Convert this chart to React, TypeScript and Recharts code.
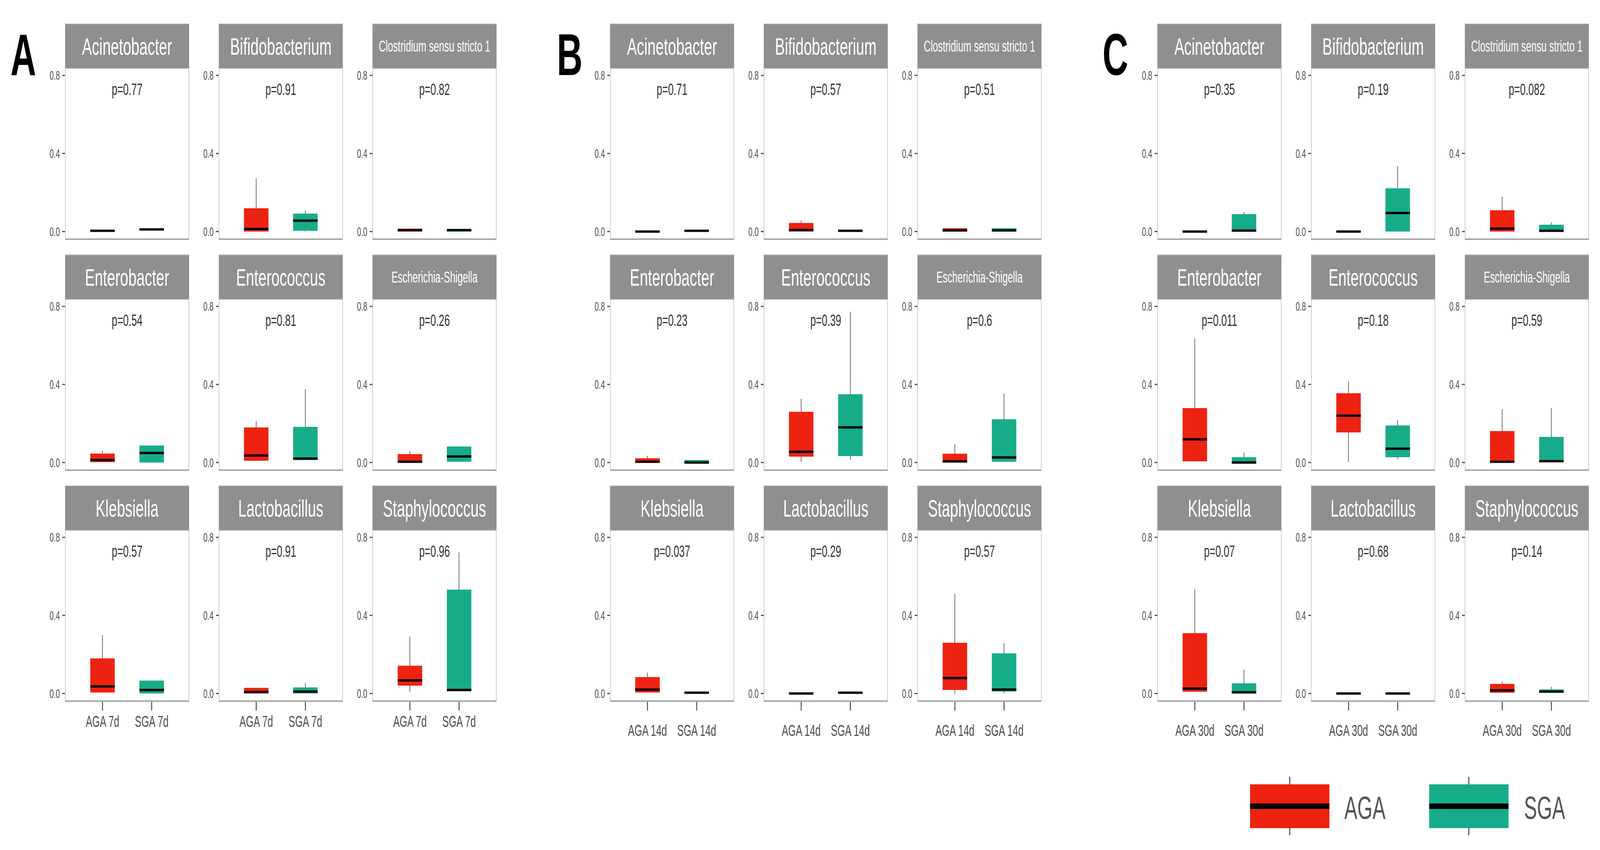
import React from 'react';
import { ComposedChart, Bar, Scatter, XAxis, YAxis, ReferenceLine, Cell } from 'recharts';

// ---------- data ----------
const TAXA = [
  'Acinetobacter',
  'Bifidobacterium',
  'Clostridium sensu stricto 1',
  'Enterobacter',
  'Enterococcus',
  'Escherichia-Shigella',
  'Klebsiella',
  'Lactobacillus',
  'Staphylococcus',
];
const GROUPS = ['AGA', 'SGA'];
const PANEL_LETTERS = ['A', 'B', 'C'];
const CATS_A = ['AGA 7d', 'SGA 7d'];
const CATS_B = ['AGA 14d', 'SGA 14d'];
const CATS_C = ['AGA 30d', 'SGA 30d'];
const Y_TICKS = [0, 0.4, 0.8];

const P_A = ['0.77', '0.91', '0.82', '0.54', '0.81', '0.26', '0.57', '0.91', '0.96'];
const P_B = ['0.71', '0.57', '0.51', '0.23', '0.39', '0.6', '0.037', '0.29', '0.57'];
const P_C = ['0.35', '0.19', '0.082', '0.011', '0.18', '0.59', '0.07', '0.68', '0.14'];

// [taxon][group] -> [whisker low, q1, median, q3, whisker high]
const STATS_A = [
  [[0, 0.001, 0.004, 0.006, 0.006], [0.008, 0.009, 0.011, 0.013, 0.013]],
  [[0, 0, 0.013, 0.119, 0.274], [0, 0.004, 0.056, 0.092, 0.109]],
  [[0, 0, 0.007, 0.015, 0.015], [0, 0, 0.007, 0.014, 0.014]],
  [[0.002, 0.002, 0.013, 0.046, 0.06], [0, 0, 0.049, 0.087, 0.087]],
  [[0.009, 0.009, 0.036, 0.18, 0.212], [0.013, 0.013, 0.02, 0.183, 0.375]],
  [[0, 0, 0.004, 0.043, 0.058], [0.004, 0.004, 0.031, 0.082, 0.082]],
  [[0.005, 0.005, 0.036, 0.18, 0.3], [0, 0, 0.018, 0.066, 0.066]],
  [[0, 0, 0.008, 0.029, 0.029], [0, 0, 0.01, 0.031, 0.054]],
  [[0.008, 0.04, 0.067, 0.142, 0.292], [0.012, 0.012, 0.018, 0.532, 0.723]],
];
const STATS_B = [
  [[0, 0, 0, 0.001, 0.001], [0.004, 0.004, 0.004, 0.005, 0.005]],
  [[0, 0, 0.008, 0.044, 0.058], [0.003, 0.003, 0.004, 0.005, 0.005]],
  [[0, 0, 0.006, 0.017, 0.017], [0, 0, 0.006, 0.017, 0.017]],
  [[0, 0, 0.004, 0.022, 0.035], [0, 0, 0, 0.013, 0.013]],
  [[0.004, 0.03, 0.055, 0.26, 0.327], [0.015, 0.033, 0.18, 0.35, 0.773]],
  [[0, 0, 0.006, 0.045, 0.095], [0.004, 0.004, 0.026, 0.222, 0.354]],
  [[0.005, 0.005, 0.02, 0.084, 0.107], [0.003, 0.003, 0.004, 0.005, 0.005]],
  [[0, 0, 0, 0.001, 0.001], [0.003, 0.003, 0.004, 0.005, 0.005]],
  [[0, 0.018, 0.079, 0.26, 0.51], [0, 0.01, 0.02, 0.206, 0.257]],
];
const STATS_C = [
  [[0, 0, 0, 0.001, 0.001], [0, 0, 0.005, 0.089, 0.1]],
  [[0, 0, 0, 0.001, 0.001], [0, 0, 0.095, 0.222, 0.336]],
  [[0, 0, 0.015, 0.109, 0.178], [0, 0, 0.004, 0.035, 0.048]],
  [[0.006, 0.006, 0.119, 0.279, 0.637], [0, 0, 0, 0.027, 0.051]],
  [[0.003, 0.154, 0.24, 0.355, 0.416], [0.016, 0.027, 0.071, 0.19, 0.216]],
  [[0, 0, 0.004, 0.161, 0.273], [0.002, 0.002, 0.007, 0.131, 0.279]],
  [[0.009, 0.009, 0.025, 0.309, 0.533], [0, 0, 0.006, 0.052, 0.122]],
  [[0, 0, 0, 0.001, 0.001], [0, 0, 0, 0.001, 0.001]],
  [[0.004, 0.004, 0.016, 0.049, 0.062], [0.004, 0.004, 0.01, 0.021, 0.035]],
];

// ---------- style / layout ----------
const COLORS = ['#EE2211', '#16AC8A'];
const FONT = '"Liberation Sans", Arial, Helvetica, sans-serif';
const PAGE_W = 6735;
const PAGE_H = 2175;
const PANEL_X = [0, 2294, 4598];
const COL_X0 = 274;
const COL_PITCH = 647;
const FACET_W = 522;
const ROW_Y0 = 60;
const ROW_PITCH = 591;
const STRIP_H = 114;
const PLOT_H = 440;
const YAXIS_W = 80;
const XAXIS_H = 110;
const BOX_W = 103;
const CAT_PAD = 54;
const Y_DOMAIN = [-0.043, 0.838];
const LABEL_MARGIN = [13, 36, 36];

const MedianShape = (props: any) => {
  const { cx, cy } = props;
  if (cx == null || cy == null) return null;
  return <rect x={cx - BOX_W / 2} y={cy - 3} width={BOX_W} height={6} fill="#000" />;
};

function Facet(props: {
  left: number; top: number; taxon: string; stats: number[][]; p: string;
  cats: string[]; bottom: boolean; labelMargin: number;
}) {
  const { left, top, taxon, stats, p, cats, bottom, labelMargin } = props;
  const data = cats.map((c, i) => ({
    cat: c,
    group: GROUPS[i],
    wh: [stats[i][0], stats[i][4]],
    box: [stats[i][1], stats[i][3]],
    med: stats[i][2],
  }));
  const h = PLOT_H + (bottom ? XAXIS_H : 0);
  const stripFont = taxon.length > 16 ? 40 : 62;
  return (
    <div style={{ position: 'absolute', left, top, width: FACET_W, height: STRIP_H + h }}>
      <div
        style={{
          position: 'absolute', left: 0, top: 0, width: FACET_W, height: STRIP_H,
          background: '#8f8f8f', color: '#ffffff', fontSize: stripFont,
          display: 'flex', alignItems: 'center', justifyContent: 'center',
          whiteSpace: 'nowrap', boxSizing: 'border-box', borderTop: '2px solid #c4c4c4',
        }}
      >
        {taxon}
      </div>
      <div style={{ position: 'absolute', left: -YAXIS_W, top: STRIP_H }}>
        <ComposedChart
          width={FACET_W + YAXIS_W}
          height={h}
          data={data}
          margin={{ top: 0, right: 0, bottom: 0, left: 0 }}
        >
          <XAxis
            xAxisId="x0"
            dataKey="cat"
            type="category"
            hide={!bottom}
            height={XAXIS_H}
            padding={{ left: CAT_PAD, right: CAT_PAD }}
            tickSize={22}
            tickMargin={labelMargin}
            axisLine={false}
            tickLine={{ stroke: '#333', strokeWidth: 3.5 }}
            tick={{ fontSize: 41, fill: '#4d4d4d' }}
            interval={0}
          />
          <XAxis
            xAxisId="x1"
            dataKey="cat"
            type="category"
            hide
            padding={{ left: CAT_PAD, right: CAT_PAD }}
          />
          <YAxis
            type="number"
            domain={Y_DOMAIN}
            ticks={Y_TICKS}
            allowDataOverflow
            width={YAXIS_W}
            tickSize={12}
            tickMargin={10}
            interval={0}
            tickFormatter={(v: number) => v.toFixed(1)}
            axisLine={false}
            tickLine={{ stroke: '#4d4d4d', strokeWidth: 3 }}
            tick={{ fontSize: 31, fill: '#4d4d4d' }}
          />
          <Bar xAxisId="x1" dataKey="wh" barSize={2.5} fill="#4a4a4a" isAnimationActive={false} />
          <Bar xAxisId="x0" dataKey="box" barSize={BOX_W} isAnimationActive={false}>
            {data.map((d, i) => (
              <Cell key={d.cat} fill={COLORS[i]} />
            ))}
          </Bar>
          <Scatter xAxisId="x0" dataKey="med" shape={MedianShape} isAnimationActive={false} />
          <ReferenceLine
            xAxisId="x0"
            y={0.73}
            stroke="none"
            label={{ value: `p=${p}`, position: 'center', fontSize: 42, fill: '#333333' }}
          />
        </ComposedChart>
      </div>
      <div
        style={{
          position: 'absolute', left: 0, top: STRIP_H, width: FACET_W, height: PLOT_H,
          boxSizing: 'border-box', border: '2px solid #b4b4b4', borderBottom: '4px solid #a8a8a8',
          pointerEvents: 'none',
        }}
      />
    </div>
  );
}

const PANELS = [
  { stats: STATS_A, p: P_A, cats: CATS_A },
  { stats: STATS_B, p: P_B, cats: CATS_B },
  { stats: STATS_C, p: P_C, cats: CATS_C },
];

// The page is laid out at 6735x2175; if the real viewport is smaller, the
// whole figure is fitted to it so nothing is cut off.
function getScale(): [number, number] {
  if (typeof window === 'undefined') return [1, 1];
  const w = window.innerWidth || PAGE_W;
  const h = window.innerHeight || PAGE_H;
  return [Math.min(1, w / PAGE_W), Math.min(1, h / PAGE_H)];
}

export default function App() {
  const [scale, setScale] = React.useState<[number, number]>(getScale());
  React.useEffect(() => {
    const onResize = () => setScale(getScale());
    window.addEventListener('resize', onResize);
    return () => window.removeEventListener('resize', onResize);
  }, []);

  const facets: React.ReactNode[] = [];
  PANELS.forEach((panel, pi) => {
    TAXA.forEach((taxon, ti) => {
      const r = Math.floor(ti / 3);
      const c = ti % 3;
      facets.push(
        <Facet
          key={`${pi}-${ti}`}
          left={PANEL_X[pi] + COL_X0 + c * COL_PITCH}
          top={ROW_Y0 + r * ROW_PITCH}
          taxon={taxon}
          stats={panel.stats[ti]}
          p={panel.p[ti]}
          cats={panel.cats}
          bottom={r === 2}
          labelMargin={LABEL_MARGIN[pi]}
        />
      );
    });
  });

  const legendItems = [
    { label: GROUPS[0], x: 5262, tx: 5659, color: COLORS[0] },
    { label: GROUPS[1], x: 6016, tx: 6415, color: COLORS[1] },
  ];

  return (
    <div
      style={{
        position: 'absolute', left: 0, top: 0, width: PAGE_W, height: PAGE_H,
        background: '#ffffff', fontFamily: FONT, overflow: 'hidden',
        transform: `scale(${scale[0]}, ${scale[1]})`, transformOrigin: '0 0',
      }}
    >
      <svg width={PAGE_W} height={PAGE_H} style={{ position: 'absolute', left: 0, top: 0 }}>
        {PANEL_LETTERS.map((l, i) => (
          <text
            key={l}
            x={[44, 2344, 4641][i]}
            y={192}
            fontSize={150}
            fontWeight="bold"
            fill="#000"
            fontFamily={FONT}
          >
            {l}
          </text>
        ))}
        {legendItems.map((it) => (
          <g key={it.label}>
            <line x1={it.x + 167} x2={it.x + 167} y1={1988} y2={2137} stroke="#000" strokeWidth={3} />
            <rect x={it.x} y={2007} width={334} height={112} fill={it.color} />
            <rect x={it.x} y={2056} width={334} height={14} fill="#000" />
            <text x={it.tx} y={2095} fontSize={82} fill="#555555" fontFamily={FONT}>
              {it.label}
            </text>
          </g>
        ))}
      </svg>
      {facets}
    </div>
  );
}
